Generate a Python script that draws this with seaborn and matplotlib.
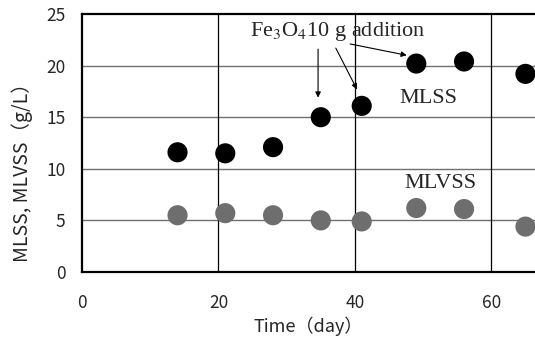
import pandas as pd
import matplotlib.pyplot as plt
import seaborn as sns

# datos
dias = [14, 21, 28, 35, 41, 49, 56, 65]
mlss = [11.6, 11.5, 12.1, 15.0, 16.1, 20.2, 20.4, 19.2]
mlvss = [5.5, 5.7, 5.5, 5.0, 4.9, 6.2, 6.1, 4.4]

df = pd.DataFrame({'dia': dias, 'MLSS': mlss, 'MLVSS': mlvss})

sns.set_style('white')
plt.rcParams['font.family'] = ['Noto Sans CJK JP', 'DejaVu Sans']

fig = plt.figure(figsize=(5.35, 3.42), dpi=100)
ax = fig.add_axes([0.1533, 0.2047, 0.8467, 0.7543])

ax.set_xlim(0, 66.4)
ax.set_ylim(0, 25)
ax.set_xticks([0, 20, 40, 60])
ax.set_yticks([0, 5, 10, 15, 20, 25])

# rejilla: horizontales grises, verticales negras
for y in [5, 10, 15, 20]:
    ax.axhline(y, color='#707070', lw=1.0, zorder=1)
for x in [20, 40, 60]:
    ax.axvline(x, color='black', lw=0.9, zorder=1)

sns.scatterplot(data=df, x='dia', y='MLSS', ax=ax, color='black', s=210,
                edgecolor='none', zorder=3, clip_on=False)
sns.scatterplot(data=df, x='dia', y='MLVSS', ax=ax, color='#6e6e6e', s=210,
                edgecolor='none', zorder=3, clip_on=False)

for lado in ['left', 'bottom', 'top']:
    ax.spines[lado].set_linewidth(1.6)
    ax.spines[lado].set_color('black')
ax.spines['right'].set_visible(False)

ax.tick_params(axis='both', labelsize=12.5, length=0)
ax.tick_params(axis='x', pad=16)
ax.tick_params(axis='y', pad=12)
ax.set_xlabel('Time（day）', fontsize=13, labelpad=3)
ax.set_ylabel('MLSS, MLVSS（g/L）', fontsize=14)
ax.yaxis.set_label_coords(-0.108, 0.403)

serif = dict(family='Liberation Serif', fontsize=16)
ax.text(37.5, 23.3, 'Fe$_3$O$_4$10 g addition', ha='center', va='center',
        math_fontfamily='stix', **serif)
ax.text(50.7, 16.8, 'MLSS', ha='center', va='center', **serif)
ax.text(52.6, 8.6, 'MLVSS', ha='center', va='center', **serif)

flecha = dict(arrowstyle='-|>', color='black', lw=0.8, mutation_scale=8,
              shrinkA=0, shrinkB=0)
ax.annotate('', xy=(34.6, 16.9), xytext=(34.6, 21.6), arrowprops=flecha)
ax.annotate('', xy=(40.3, 17.7), xytext=(37.2, 21.7), arrowprops=flecha)
ax.annotate('', xy=(47.6, 21.0), xytext=(39.3, 22.1), arrowprops=flecha)

plt.savefig('out.png', dpi=100)
